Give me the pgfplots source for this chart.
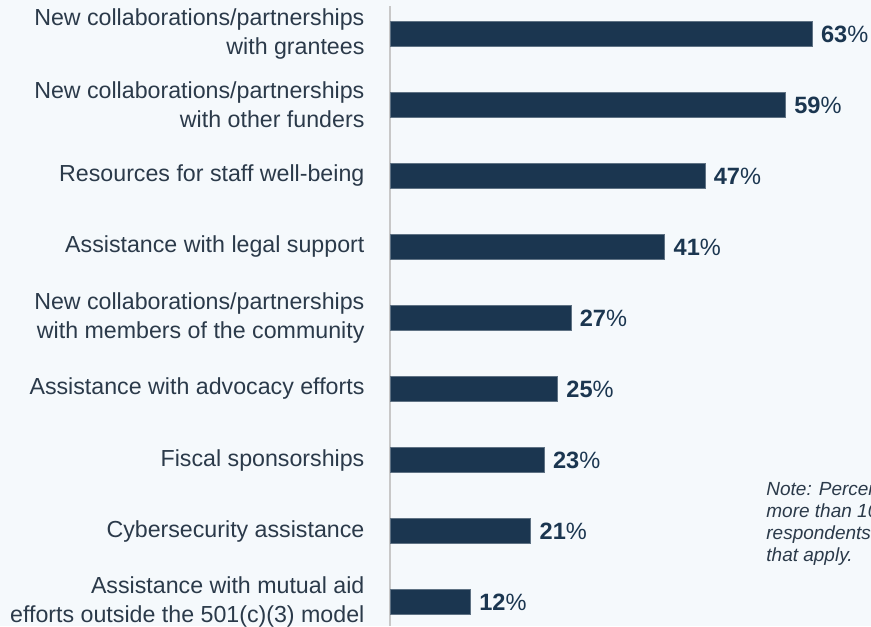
\documentclass[border=0pt]{standalone}
\usepackage{fontspec}
\setmainfont{Liberation Sans}
\usepackage{pgfplots}
\pgfplotsset{compat=1.18}
\definecolor{bg}{HTML}{F5F9FC}
\definecolor{navy}{HTML}{1B3650}
\definecolor{labtxt}{HTML}{2B3A4A}
\definecolor{axgray}{HTML}{C8C8C8}
\begin{document}
\begin{tikzpicture}
\fill[bg] (0,0) rectangle (435.5pt,313pt);
\begin{axis}[
    at={(195pt,0pt)}, anchor=south west,
    scale only axis,
    width=234.5pt, height=310pt,
    xbar, bar width=12.5pt,
    xmin=0, xmax=70,
    ymin=-0.394, ymax=8.338,
    y dir=reverse,
    axis x line=none,
    axis y line*=left,
    y axis line style={axgray, line width=0.75pt, -},
    xtick=\empty,
    ytick={0,...,8},
    ytick style={draw=none},
    yticklabels={
      {New collaborations/partnerships\\with grantees},
      {New collaborations/partnerships\\with other funders},
      {Resources for staff well-being},
      {Assistance with legal support},
      {New collaborations/partnerships\\with members of the community},
      {Assistance with advocacy efforts},
      {Fiscal sponsorships},
      {Cybersecurity assistance},
      {Assistance with mutual aid\\efforts outside the 501(c)(3) model}},
    yticklabel style={align=right, font=\fontsize{11.6}{14.6}\selectfont, text=labtxt, xshift=-5pt},
    /pgf/number format/assume math mode=true,
    nodes near coords={\textbf{\pgfmathprintnumber{\pgfplotspointmeta}}\%},
    nodes near coords style={font=\fontsize{11.8}{13}\selectfont, text=navy, xshift=1pt},
    clip=false,
  ]
  \addplot[fill=navy, draw=navy!70!white, line width=0.3pt] coordinates {
    (63,0) (59,1) (47,2) (41,3) (27,4) (25,5) (23,6) (21,7) (12,8)
  };
\end{axis}
\node[overlay, anchor=north west, align=left, font=\fontsize{9.5}{11}\selectfont\itshape, text=labtxt, inner sep=0pt] at (383pt,72.5pt)
  {Note: Percentages total\\more than 100\% because\\respondents could select all\\that apply.};
\pgfresetboundingbox
\useasboundingbox (0,0) rectangle (435.5pt,313pt);
\end{tikzpicture}
\end{document}
